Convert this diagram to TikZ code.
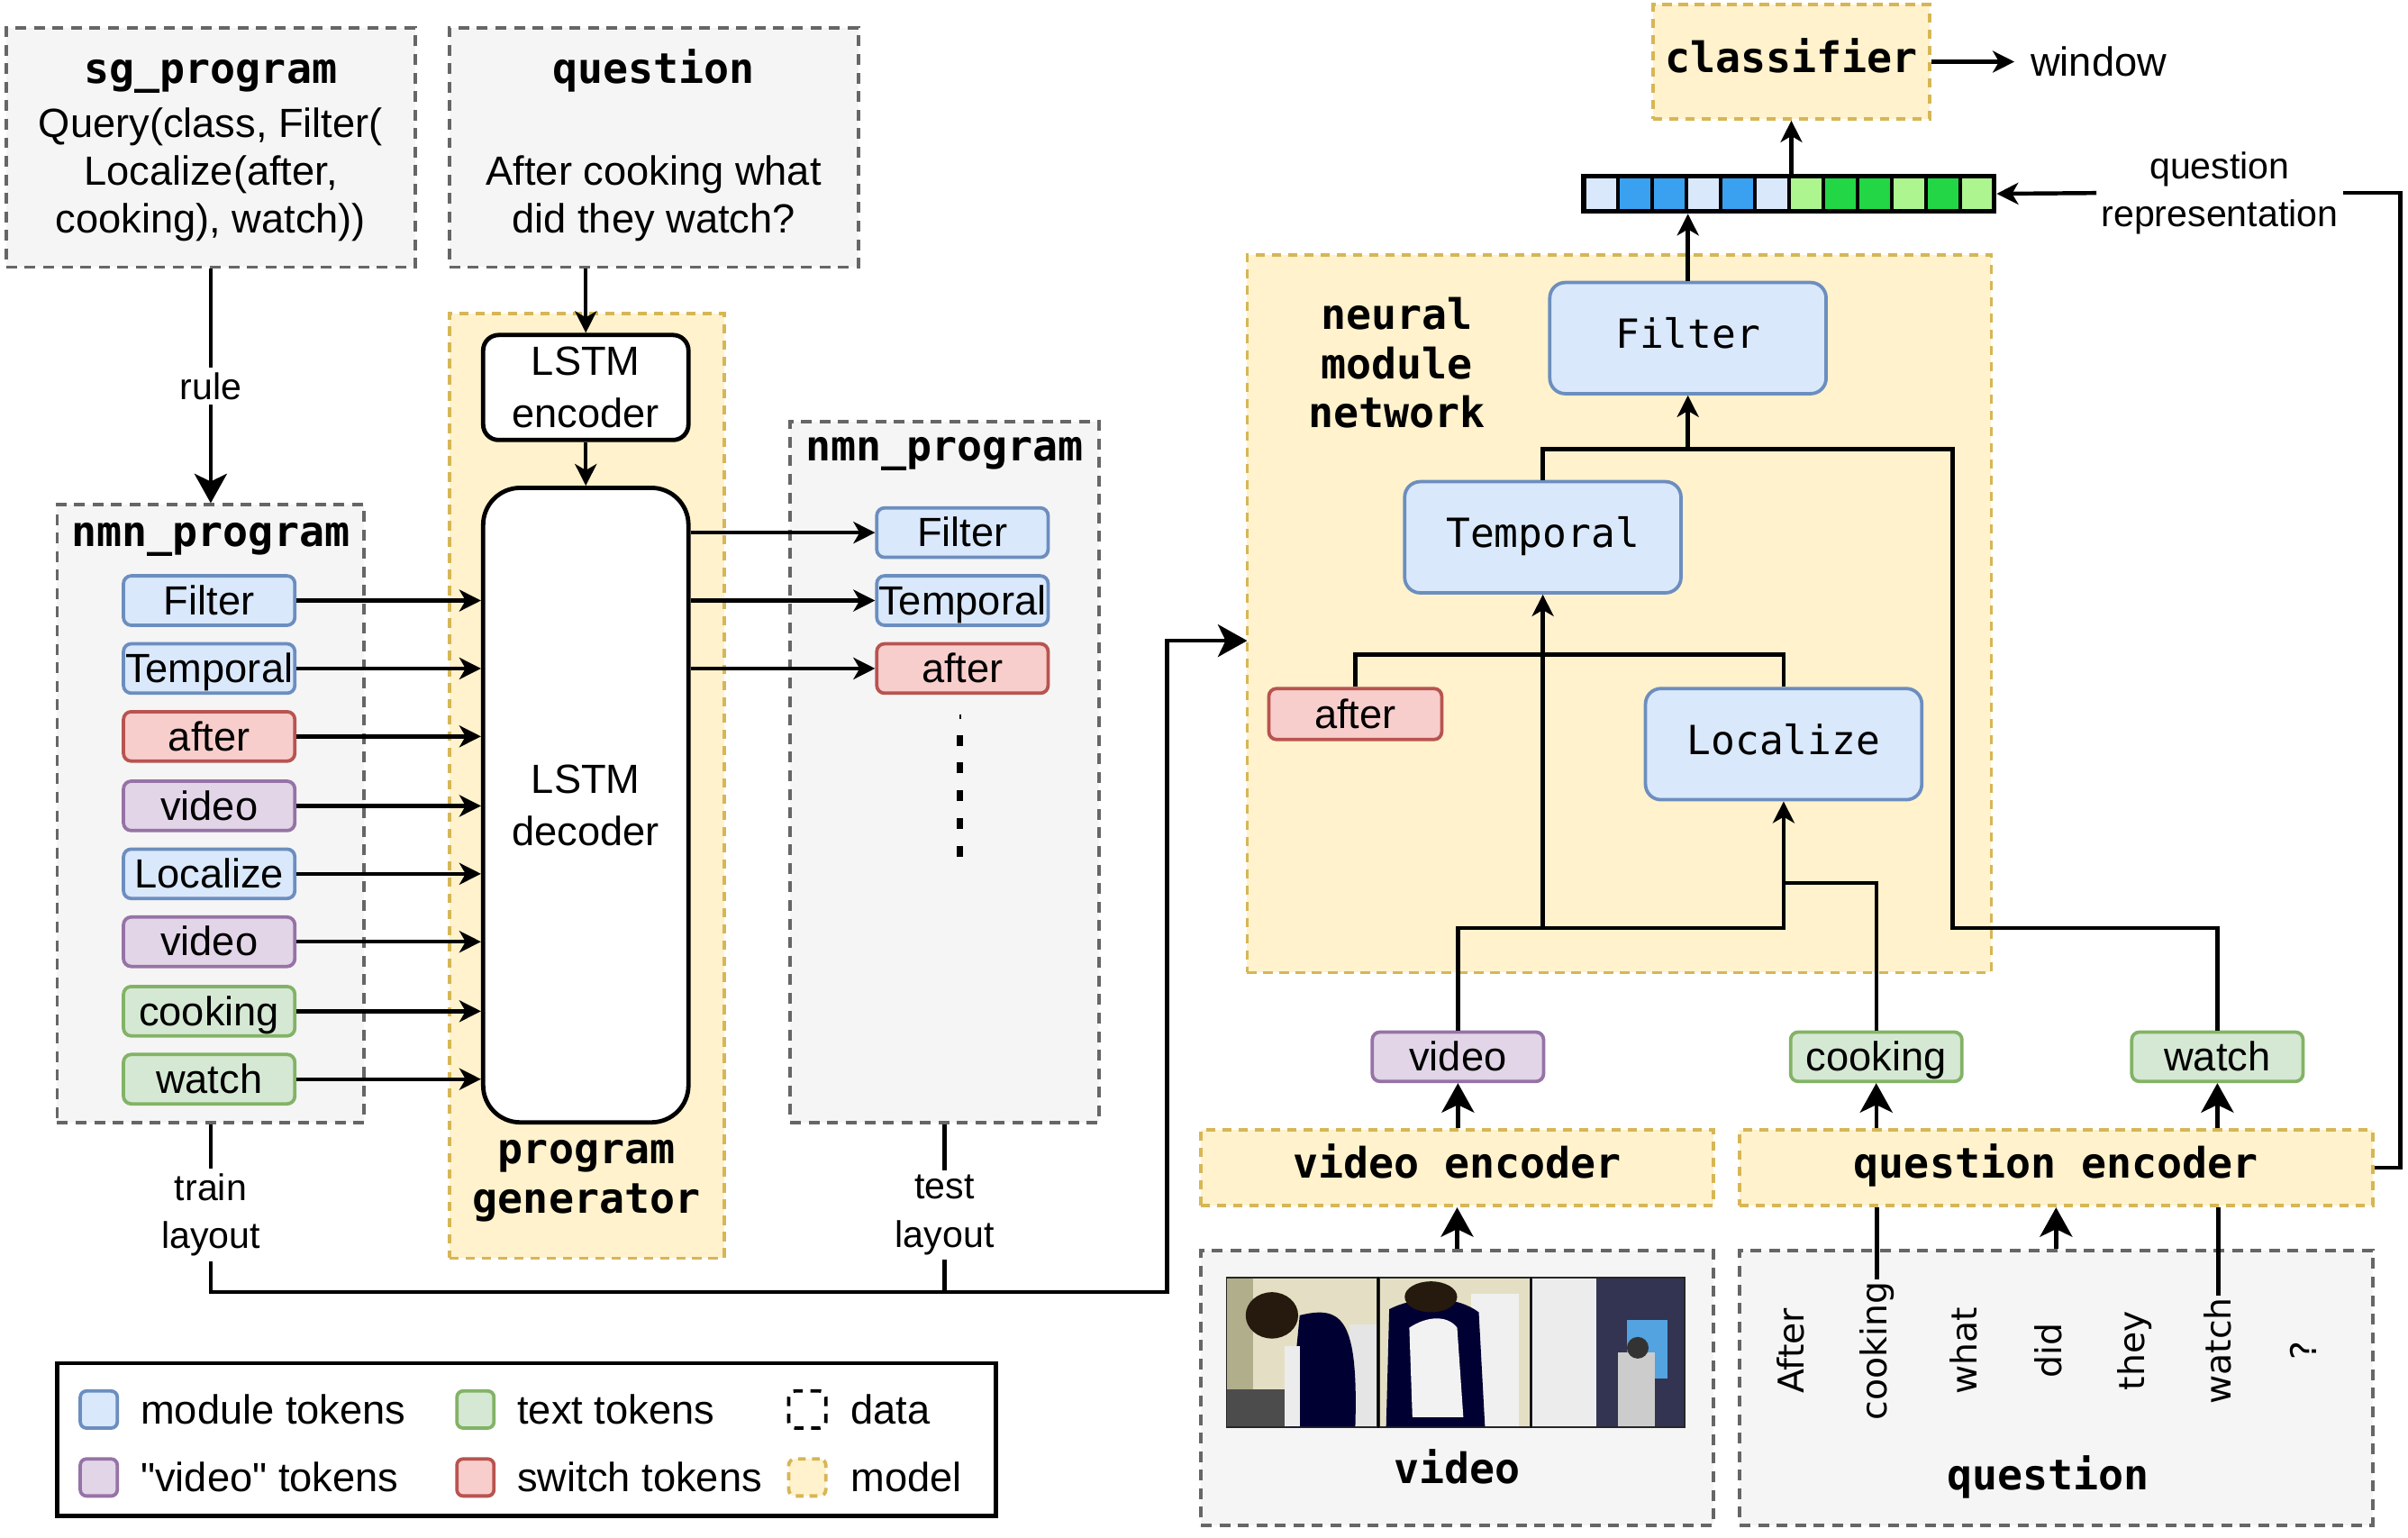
\documentclass[tikz,border=0pt]{standalone}
\usepackage{fontspec}
\setmainfont{Liberation Sans}[Ligatures=TeXOff]
\newfontfamily\monof{DejaVu Sans Mono}
\newfontfamily\qwf{DejaVu Sans}
\usetikzlibrary{arrows.meta,calc}
\definecolor{dboxD}{HTML}{666666}
\definecolor{dboxF}{HTML}{F5F5F5}
\definecolor{mY}{HTML}{D6B656}
\definecolor{mYF}{HTML}{FFF2CC}
\definecolor{bluD}{HTML}{6C8EBF}
\definecolor{bluF}{HTML}{DAE8FC}
\definecolor{redD}{HTML}{B85450}
\definecolor{redF}{HTML}{F8CECC}
\definecolor{purD}{HTML}{9673A6}
\definecolor{purF}{HTML}{E1D5E7}
\definecolor{grnD}{HTML}{82B366}
\definecolor{grnF}{HTML}{D5E8D4}
\definecolor{vecB}{HTML}{3AA0F0}
\definecolor{vecG}{HTML}{22D645}
\definecolor{vecLG}{HTML}{ADF58F}
\newcommand\myS{\fontsize{26.4}{31}\selectfont}
\newcommand\myL{\fontsize{24}{31}\selectfont}
\newcommand\myLS{\fontsize{26.4}{34}\selectfont}
\newcommand\myM{\monof\bfseries\fontsize{27.2}{32}\selectfont}
\newcommand\myMr{\monof\fontsize{26}{31}\selectfont}
\newcommand\myQ{\qwf\fontsize{23}{27}\selectfont}
\tikzset{
  databox/.style={draw=dboxD, fill=dboxF, line width=2.2pt, dash pattern=on 7pt off 5pt, inner sep=0pt},
  modelbox/.style={draw=mY, fill=mYF, line width=2.2pt, dash pattern=on 6pt off 4.5pt, inner sep=0pt},
  mtitle/.style={font=\myM, text height=20.4pt, text depth=6.8pt},
  tok/.style={rounded corners=5pt, line width=2.2pt, minimum width=111pt, minimum height=32pt, inner sep=0pt, font=\myS, text height=23.9pt, text depth=5.6pt},
  tokb/.style={tok, draw=bluD, fill=bluF},
  tokr/.style={tok, draw=redD, fill=redF},
  tokp/.style={tok, draw=purD, fill=purF},
  tokg/.style={tok, draw=grnD, fill=grnF},
  nmod/.style={rounded corners=10pt, line width=2.2pt, draw=bluD, fill=bluF, minimum width=179pt, minimum height=72pt, inner sep=0pt, font=\myMr, text height=19.5pt, text depth=6.2pt},
  lstm/.style={draw=black, fill=white, line width=2.8pt, inner sep=0pt, font=\myLS, align=center},
  conn/.style={draw=black, line width=2.6pt},
  arr/.style={conn, -{Stealth[length=14pt, width=14pt, inset=4pt]}},
  arrB/.style={conn, -{Stealth[length=19pt, width=21pt, inset=5pt]}},
  legsq/.style={rounded corners=4pt, line width=2.2pt, minimum width=24pt, minimum height=24pt, inner sep=0pt},
  legtx/.style={font=\myS, anchor=west, inner sep=0pt},
  qword/.style={rotate=90, font=\myQ, inner sep=1pt},
  lbl/.style={font=\myL, align=center, inner sep=3pt}
}
\begin{document}
\begin{tikzpicture}[x=1pt,y=-1pt]
\useasboundingbox (0,0) rectangle (1560,996);

% ---------- top data boxes ----------
\node[databox, minimum width=265pt, minimum height=155pt] (sg) at (136.5,95.5) {};
\node[mtitle] (sgt) at (136.5,47) {sg\_program};
\node[font=\myS, align=center] (sgb) at (136.5,113) {Query(class, Filter(\\Localize(after,\\cooking), watch))};
\node[databox, minimum width=265pt, minimum height=155pt] (qd) at (423.5,95.5) {};
\node[mtitle] (qdt) at (423.5,47) {question};
\node[font=\myS, align=center] (qdb) at (423.5,128.5) {After cooking what\\did they watch?};

% ---------- program generator ----------
\node[modelbox, minimum width=178pt, minimum height=612pt] (pg) at (380,509) {};
\node[font=\myM, align=center] (pgl) at (380,765) {program\\generator};
\node[lstm, minimum width=133pt, minimum height=68pt, rounded corners=10pt] (enc) at (379.5,251) {LSTM\\encoder};
\node[lstm, minimum width=133pt, minimum height=411pt, rounded corners=24pt] (dec) at (379.5,521.5) {LSTM\\decoder};
\draw[arr] (qd.south -| enc.north) -- (enc.north);
\draw[arr] (enc.south) -- (dec.north);

% ---------- left nmn_program ----------
\node[databox, minimum width=199pt, minimum height=400pt] (nl) at (136.5,527) {};
\node[mtitle] (nlt) at (136.5,347) {nmn\_program};
\draw[arrB] (sg.south -| nl.north) -- node[lbl, fill=white] (rule) {rule} (nl.north);
\foreach \n/\t/\s/\y in {l1/Filter/tokb/389, l2/Temporal/tokb/433, l3/after/tokr/477, l4/video/tokp/522, l5/Localize/tokb/566, l6/video/tokp/610, l7/cooking/tokg/655, l8/watch/tokg/699}{
  \node[\s] (\n) at (135.5,\y) {\t};
  \draw[arr] (\n.east) -- (\n.east -| dec.west);
}

% ---------- right nmn_program ----------
\node[databox, minimum width=200pt, minimum height=454pt] (nr) at (612,500) {};
\node[mtitle] (nrt) at (612,292) {nmn\_program};
\foreach \n/\t/\s/\y in {r1/Filter/tokb/345, r2/Temporal/tokb/389, r3/after/tokr/433}{
  \node[\s] (\n) at (623.5,\y) {\t};
  \draw[arr] (dec.east |- \n.west) -- (\n.west);
}
\draw[line width=4pt, dash pattern=on 7pt off 11pt] (622,476) -- (622,556);
\draw[line width=1.5pt] (622,463) -- (622,466);

% ---------- layouts ----------
\node[lbl] (train) at (136.5,787) {train\\layout};
\node[lbl] (test) at (612,787) {test\\layout};
\coordinate (cb) at (756,837);
\coordinate (nin) at (808,415);
\draw[conn] (nl.south) -- (train.north);
\draw[conn] (nr.south) -- (test.north);
\draw[conn] (test.south) -- (test.south |- cb);
\draw[arrB] (train.south) |- (cb) |- (nin);

% ---------- legend ----------
\node[draw=black, fill=white, line width=2.8pt, minimum width=608pt, minimum height=99pt, inner sep=0pt] (leg) at (341,932.5) {};
\node[legsq, draw=bluD, fill=bluF] (s1) at (64,913) {};
\node[legtx] (s1t) at (91,913) {module tokens};
\node[legsq, draw=grnD, fill=grnF] (s2) at (308,913) {};
\node[legtx] (s2t) at (335,913) {text tokens};
\node[legsq, draw=black, dash pattern=on 6pt off 5pt] (s3) at (523,913) {};
\node[legtx] (s3t) at (551,913) {data};
\node[legsq, draw=purD, fill=purF] (s4) at (64,957) {};
\node[legtx] (s4t) at (91,957) {"video" tokens};
\node[legsq, draw=redD, fill=redF] (s5) at (308,957) {};
\node[legtx] (s5t) at (335,957) {switch tokens};
\node[legsq, draw=mY, fill=mYF, dash pattern=on 5pt off 4pt] (s6) at (523,957) {};
\node[legtx] (s6t) at (551,957) {model};

% ---------- neural module network ----------
\node[modelbox, minimum width=482pt, minimum height=465pt] (nmn) at (1049,397.5) {};
\node[font=\myM, align=center] (nmnl) at (905,235) {neural\\module\\network};
\node[nmod] (mF) at (1093.5,219) {Filter};
\node[nmod] (mT) at (999.5,348) {Temporal};
\node[tokr, minimum width=112pt, minimum height=33pt] (mA) at (878,462.5) {after};
\node[nmod] (mL) at (1155.5,482) {Localize};

% ---------- tokens, encoders ----------
\node[tokp] (tv) at (944.5,684.5) {video};
\node[tokg] (tc) at (1215.5,684.5) {cooking};
\node[tokg] (tw) at (1436.5,684.5) {watch};
\node[modelbox, minimum width=332pt, minimum height=49pt, mtitle] (venc) at (944,756.5) {video encoder};
\node[modelbox, minimum width=410pt, minimum height=49pt, mtitle] (qenc) at (1332,756.5) {question encoder};

% tree connectors
\coordinate (yF) at (0,291);
\coordinate (yA) at (0,424);
\coordinate (yV) at (0,601);
\coordinate (yC) at (0,572);
\coordinate (rr) at (1265,291);
\draw[conn] (mT.north) |- (rr) |- (tw.north |- yV) -- (tw.north);
\draw[arr] (mF.south |- yF) -- (mF.south);
\draw[conn] (mA.north) |- (mL.north |- yA) -- (mL.north);
\draw[arr] (tv.north) |- (mL.south |- yV) -- (mL.south);
\draw[arr] (mT.south |- yV) -- (mT.south);
\draw[conn] (tc.north) |- (mL.south |- yC);

% ---------- bottom data boxes ----------
\node[databox, minimum width=332pt, minimum height=178pt] (vd) at (944,899) {};
\node[databox, minimum width=410pt, minimum height=178pt] (qdd) at (1332,899) {};
% video frames (drawn approximation)
\fill[black!85] (794,827) rectangle (1092,925);
\fill[brown!30!olive!25!white] (795,828) rectangle (892,924);
\fill[brown!30!olive!25!white] (894,828) rectangle (991,924);
\fill[black!80!blue!60!gray] (993,828) rectangle (1091,924);
% frame 1
\fill[olive!30!gray!70] (795,828) rectangle (812,924);
\fill[gray!20] (874,858) rectangle (892,924);
\fill[black!70] (795,900) rectangle (835,924);
\fill[black!80!blue] (842,852) .. controls (870,845) and (880,855) .. (878,924) -- (835,924) -- cycle;
\fill[gray!15] (832,872) rectangle (842,924);
\fill[black!80!brown] (824,852) ellipse (17pt and 15pt);
% frame 2
\fill[gray!12] (953,838) rectangle (984,924);
\fill[black!80!blue] (900,848) .. controls (920,838) and (945,840) .. (958,850) -- (962,924) -- (898,924) -- cycle;
\fill[gray!10] (913,860) .. controls (925,852) and (938,852) .. (944,860) -- (948,918) -- (915,918) -- cycle;
\fill[black!80!brown] (927,840) ellipse (17pt and 10pt);
% frame 3
\fill[gray!15] (993,828) rectangle (1034,924);
\fill[cyan!70!blue!70!white] (1054,855) rectangle (1080,893);
\fill[gray!40] (1048,876) rectangle (1072,924);
\fill[black!80] (1061,873) circle (7pt);
\draw[black, line width=0.8pt] (893,827) -- (893,925) (992,827) -- (992,925);

\node[mtitle] (vdl) at (944,954) {video};
\node[mtitle] (qdl) at (1327,958) {question};
\foreach \n/\w/\x in {w1/After/1160, w2/cooking/1216, w3/what/1272, w4/did/1327, w5/they/1383, w6/watch/1437, w7/?/1492}{
  \node[qword] (\n) at (\x,875) {\w};
}
\draw[conn] (w2.east) -- (w2.east |- qenc.south);
\draw[conn] (w6.east) -- (w6.east |- qenc.south);
\draw[arrB] (qdd.north) -- (qenc.south);
\draw[arrB] (vd.north) -- (venc.south);
\draw[arrB] (venc.north -| tv.south) -- (tv.south);
\draw[arrB] (qenc.north -| tc.south) -- (tc.south);
\draw[arrB] (qenc.north -| tw.south) -- (tw.south);

% ---------- vector, classifier ----------
\foreach \i/\col in {0/bluF,1/vecB,2/vecB,3/bluF,4/vecB,5/bluF,6/vecLG,7/vecG,8/vecG,9/vecLG,10/vecG,11/vecLG}{
  \draw[fill=\col, line width=2.2pt] ({1026+\i*22.1667},114) rectangle ++(22.1667,23);
}
\node[draw=black, line width=3pt, minimum width=266pt, minimum height=23pt, inner sep=0pt] (vec) at (1159,125.5) {};
\node[modelbox, minimum width=179pt, minimum height=74pt, mtitle] (cls) at (1160.5,40) {classifier};
\node[font=\myS, anchor=west] (win) at (1312,40) {window};
\draw[arr, shorten >=7pt] (cls.east) -- (win.west);
\draw[arr] (mF.north) -- (mF.north |- vec.south);
\draw[arr] (vec.north -| cls.south) -- (cls.south);
\node[lbl] (qrep) at (1438,125) {question\\representation};
\draw[arr] (qrep.west) -- (vec.east);
\draw[conn] (qenc.east) -- ++(17,0) |- (qrep.east);
\end{tikzpicture}
\end{document}
